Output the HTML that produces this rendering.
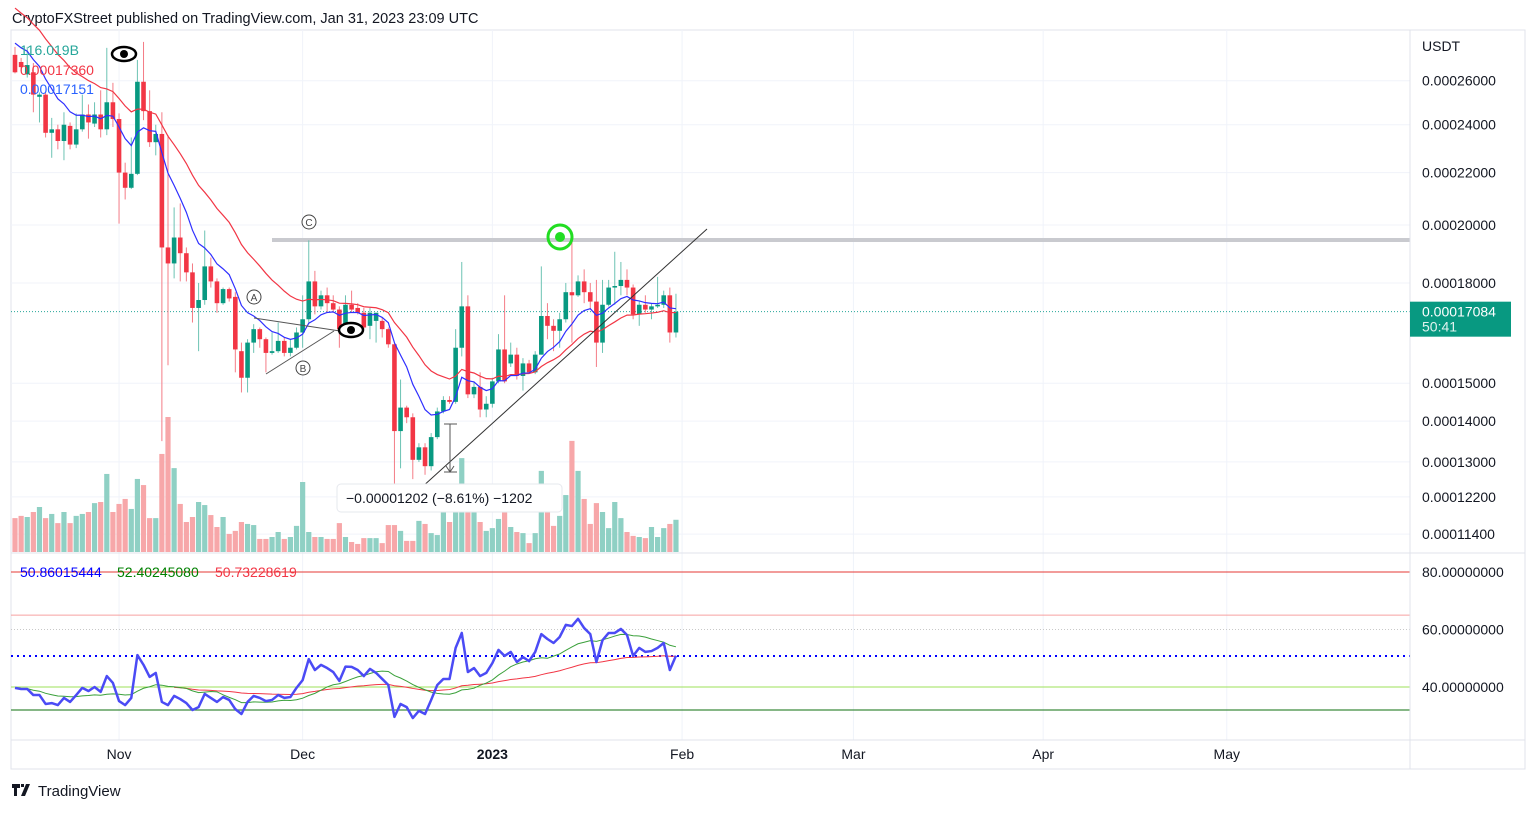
<!DOCTYPE html>
<html><head><meta charset="utf-8"><style>
html,body{margin:0;padding:0;background:#fff;}
body{width:1536px;height:810px;overflow:hidden;position:relative;font-family:"Liberation Sans",sans-serif;}
svg text{font-family:"Liberation Sans",sans-serif;}
</style></head><body>
<svg id="chart" width="1536" height="810" xmlns="http://www.w3.org/2000/svg">
<text x="12" y="23" font-size="14.5" fill="#131722">CryptoFXStreet published on TradingView.com, Jan 31, 2023 23:09 UTC</text>
<rect x="11" y="30" width="1514" height="739" fill="none" stroke="#e0e3eb"/>
<g id="grid"></g>
<g id="ann"></g>
<g id="vol"></g>
<g id="candles"></g>
<g id="ma"></g>
<g id="top"></g>
<g id="rsi"></g>
<g id="axes"></g>
<g id="legend">
<text x="20" y="55" font-size="14" fill="#26a69a">116.019B</text>
<text x="20" y="75" font-size="14" fill="#f23645">0.00017360</text>
<text x="20" y="94" font-size="14" fill="#2962ff">0.00017151</text>
<text x="20" y="577" font-size="14" fill="#0000ff">50.86015444</text>
<text x="117" y="577" font-size="14" fill="#008000">52.40245080</text>
<text x="215" y="577" font-size="14" fill="#f23645">50.73228619</text>
</g>
<g>
<path d="M12 784h8v4h-3v8h-3v-8h-2z M21 784h3v3h-3z M26 784h4l-5 12h-4z" fill="#131722"/>
<text x="38" y="796" font-size="15" fill="#131722">TradingView</text>
</g>
</svg>
<script>
// price values in units of 1e-6 USDT: [open, high, low, close], daily from Oct 15 2022
const ohlc = [
[272.5,276.5,263.5,264],[269,271,264.5,266.5],[263,276.5,261.5,267.5],[264,268.5,245.5,253.5],[252.5,254.5,241,253.5],
[253.5,254.5,234.5,236.5],[236.5,243,226,238],[238,240,229.5,233],[233,245.5,225,240],[239.5,241,229.5,231.5],
[231.5,245,230,238],[238,253.5,237,244.5],[244.5,249,234,241],[240.5,250,239,244.5],[244.5,255.5,234.5,238],
[238,276,235.5,250],[250,259,239,242.5],[242.5,245,200.5,220],[220,224,209.5,214],[214,234.5,213.5,219.5],
[219.5,270,219,259.5],[259.5,279,242,246],[246,255.5,230.5,232.5],[232.5,240,227,236],[236,245.5,135,192],
[192,235.5,155,186.5],[186.5,206.5,181.5,195.5],[195.5,208,180.5,190],[190,192,180.5,183.5],[183.5,186.5,167.5,172],
[172,180,159,174.5],[174.5,198,173,185.5],[185.5,188.5,178.5,180.5],[180.5,181.5,170.5,173.5],[173.5,178.5,173,178],
[178,178.5,174,175],[175.5,177,153,159.5],[159,161.5,147.5,151.5],[151.5,162.5,147.5,161.5],[161.5,167,158.5,165.5],
[165.5,166,160,162.5],[162.5,163,153,158.5],[158.5,164.5,158,159],[159,167.5,158.5,162],[162,163,157.5,158.5],
[158.5,162.5,157.5,160],[160,166,159.5,164.5],[164.5,176,160,168.5],[168.5,194.5,167.5,180.5],[180.5,184,170,172.5],
[172.5,177.5,171.5,176],[176,178.5,170.5,173.5],[173.5,176,170.5,171.5],[171.5,172.5,160,165.5],[165.5,176,163,173],
[173,177.5,170.5,171.5],[172,173.5,170,170.5],[170.5,172,165.5,166],[166.5,172,162.5,170.5],[168,170.5,161.5,170.5],
[168,169,163,165.5],[165.5,166,160,161],[161,161.5,123,137.5],[137.5,151,128.5,143.5],[143.5,144,139.5,141],
[141,142,126,130.5],[130.5,134.5,130,133.5],[133.5,134.5,127,129],[129,137,128,136],[136,143.5,135.5,142.5],
[142.5,146.5,142,145.5],[145.5,146.5,144.5,145],[145,165.5,144.5,160],[160,187,157.5,172.5],[172.5,176,146,147],
[147,150.5,146,149],[149,153,141,143],[143,146.5,141,144.5],[144.5,151.5,143.5,150.5],[150.5,164,150,159.5],
[159.5,176,150,150.5],[155.5,161.5,154.5,158],[158,160,151,152],[152,157,148,155.5],[155.5,156.5,153,153],
[153,159,152.5,158],[158,185.5,158,169.5],[169.5,173.5,162.5,166.5],[166.5,168.5,159,165],[165,170.5,160,168.5],
[168.5,180,167.5,177],[177,196.5,161.5,176],[176,182.5,175.5,180.5],[180.5,184.5,173.5,177],[177,180,171.5,174],
[174,181,154.5,161.5],[161.5,181,158.5,173],[173,181,172.5,178.5],[178.5,190.5,173,179],[179,187,176,181],
[181,184.5,176,178.5],[178.5,179.5,168.5,170],[170,174,166.5,173],[173,176,170.5,171.5],[171.5,173.5,168.5,172.5],
[172.5,182,172,173],[173,177.5,172,176],[176,178.5,161.5,164.5],[164.5,176.5,163,170.84]
];
// volume in billions
const volume = [122,130,126,144,162,122,137,104,144,104,130,137,144,176,180,281,144,173,191,155,263,241,122,122,353,486,302,173,108,126,180,169,133,90,126,65,76,108,101,97,47,47,54,72,47,54,94,252,72,54,54,47,47,104,54,36,29,50,50,50,32,97,97,76,40,40,112,101,68,61,144,108,144,338,241,144,108,76,86,119,202,90,72,68,32,68,292,144,94,130,205,400,292,191,101,176,144,86,180,122,72,58,54,50,90,54,86,101,116];
// RSI values
const rsi = [39.7,39.3,39.3,37.2,37.2,34.1,34.4,33.7,36.2,34.8,
37.2,39.7,38.6,40,38.3,43.8,41.4,35.1,33.7,36.2,
51.1,47.7,43.5,44.9,34.8,33.7,36.9,35.8,34.4,32,
33,37.6,36.2,34.8,36.5,35.5,32.3,30.6,34.8,36.9,
36.2,35.1,35.5,37.2,36.2,36.5,39.7,42.4,49.7,45.9,
47.7,46.6,45.2,42.1,47.1,47,45.9,43.8,46.3,44.9,
42.8,40.7,29.6,34.1,33,29.2,31.7,30.6,35.5,40.7,
42.8,42.8,53.6,58.8,45.2,46.6,43.8,44.9,48.3,52.9,
50.8,52.2,48.7,50.4,49,52.2,58.4,56.7,55.3,57.4,
61.6,61.2,63.7,60.5,58.4,48.7,56.3,58.8,58.8,60.2,
58.1,50.8,53.6,52.2,52.5,53.6,55.3,45.9,50.86];
const priceTicks = [260,240,220,200,180,150,140,130,122,114];
const rsiTicks = [80,60,40];
const months = [["Nov",17,false],["Dec",47,false],["2023",78,true],["Feb",109,false],["Mar",137,false],["Apr",168,false],["May",198,false]];
const lastPrice = 170.84;

const NS="http://www.w3.org/2000/svg";
function el(tag,attrs,parent,text){const e=document.createElementNS(NS,tag);for(const k in attrs)e.setAttribute(k,attrs[k]);if(text!==undefined)e.textContent=text;document.getElementById(parent).appendChild(e);return e;}
const X=i=>15+i*6.12;
const Y=p=>225-550*Math.log(p/200);
const VY=v=>552-v/3.6;
const RY=v=>572+(80-v)*2.875;

// grid
priceTicks.forEach(t=>{const g=el('line',{x1:11,x2:1410,y1:Y(t),y2:Y(t),stroke:'#f0f3fa'},'grid');

});
months.forEach(m=>{const g=el('line',{x1:X(m[1]),x2:X(m[1]),y1:30,y2:740,stroke:'#f0f3fa'},'grid');

});

el('line',{x1:11,x2:1525,y1:553,y2:553,stroke:'#e0e3eb'},'axes');
el('line',{x1:11,x2:1525,y1:740,y2:740,stroke:'#e0e3eb'},'axes');
el('line',{x1:1410,x2:1410,y1:30,y2:769,stroke:'#e0e3eb'},'axes');

// volume
volume.forEach((v,i)=>{const up=ohlc[i][3]>=ohlc[i][0];
const r=el('rect',{x:X(i)-2.6,y:VY(v),width:5.2,height:552-VY(v),fill:up?'#8fd0c4':'#f7a7a9'},'vol');

});

// annotations
el('line',{x1:272,x2:1410,y1:240,y2:240,stroke:'#c9cacf','stroke-width':4},'ann');
el('line',{x1:11,x2:1410,y1:Y(lastPrice),y2:Y(lastPrice),stroke:'#26a69a','stroke-dasharray':'1 2','stroke-width':1},'ann');
el('line',{x1:400,y1:507,x2:707,y2:229,stroke:'#333','stroke-width':1},'top');
el('line',{x1:254,y1:318,x2:340,y2:331,stroke:'#555','stroke-width':1},'top');
el('line',{x1:266,y1:374,x2:334,y2:331,stroke:'#555','stroke-width':1},'top');
el('line',{x1:450,y1:424,x2:450,y2:472,stroke:'#555','stroke-width':1},'top');
el('line',{x1:444,y1:424,x2:457,y2:424,stroke:'#555'},'top');
el('line',{x1:444,y1:472,x2:457,y2:472,stroke:'#555'},'top');
el('path',{d:'M446 466 L450 472 L454 466',fill:'none',stroke:'#555'},'top');
[["A",254,297],["B",303,368],["C",309,222]].forEach(a=>{
const c=el('circle',{cx:a[1],cy:a[2],r:7,fill:'#fff',stroke:'#444','stroke-width':1},'top');


el('text',{x:a[1],y:a[2]+4,'font-size':10,'text-anchor':'middle',fill:'#444'},'top',a[0]);});
el('circle',{cx:560,cy:237,r:12,fill:'none',stroke:'#22dd22','stroke-width':3},'top');
el('circle',{cx:560,cy:237,r:5,fill:'#22dd22'},'top');
[[124,54],[351,330]].forEach(p=>{
const e=el('ellipse',{cx:p[0],cy:p[1],rx:12,ry:7,fill:'#fff',stroke:'#000','stroke-width':2.5},'top');


el('circle',{cx:p[0],cy:p[1],r:4,fill:'#000'},'top');});
const box=el('rect',{x:337,y:484,width:225,height:28,rx:4,fill:'#fff',stroke:'#e6e8ee'},'top');


el('text',{x:346,y:503,'font-size':14,fill:'#131722'},'top','\u22120.00001202 (\u22128.61%) \u22121202');

// candles
ohlc.forEach((c,i)=>{const [o,h,l,cl]=c;const up=cl>=o;const col=up?'#089981':'#f23645';
const w=el('line',{x1:X(i),x2:X(i),y1:Y(h),y2:Y(l),stroke:up?'#6cc3b3':'#f47c86','stroke-width':1},'candles');


const top=Y(Math.max(o,cl)),bot=Y(Math.min(o,cl));
const b=el('rect',{x:X(i)-2.3,y:top,width:4.6,height:Math.max(1,bot-top),fill:col},'candles');

});

// moving averages (EMA of closes)
function ema(vals,n,seed){const a=2/(n+1);let e=seed;return vals.map(v=>e=e+a*(v-e));}
const closes=ohlc.map(c=>c[3]);
const fast=ema(closes,9,282), slow=ema(closes,21,300);
[[slow,'#f23645','slow-ma-line'],[fast,'#2f2fff','fast-ma-line']].forEach(s=>{
const p=el('polyline',{points:s[0].map((v,i)=>X(i)+','+Y(v)).join(' '),fill:'none',stroke:s[1],'stroke-width':1.2},'ma');

});

// RSI pane
el('line',{x1:11,x2:1410,y1:RY(80),y2:RY(80),stroke:'#e53935'},'rsi');
el('line',{x1:11,x2:1410,y1:RY(65),y2:RY(65),stroke:'#f7a0a0'},'rsi');
el('line',{x1:11,x2:1410,y1:RY(60),y2:RY(60),stroke:'#c8c8c8','stroke-dasharray':'1 2'},'rsi');
el('line',{x1:11,x2:1410,y1:656,y2:656,stroke:'#0000ff','stroke-width':2,'stroke-dasharray':'2 4'},'rsi');
el('line',{x1:11,x2:1410,y1:RY(40),y2:RY(40),stroke:'#9ee05a'},'rsi');
el('line',{x1:11,x2:1410,y1:RY(32),y2:RY(32),stroke:'#3d8c3d','stroke-width':1.2},'rsi');
const sig=rsi.map((v,i)=>{const s=rsi.slice(Math.max(0,i-13),i+1);return s.reduce((a,b)=>a+b,0)/s.length;});
const slowStart=26;const slowR=ema(rsi.slice(slowStart),50,40);
const p1=el('polyline',{points:slowR.map((v,i)=>X(i+slowStart)+','+RY(v)).join(' '),fill:'none',stroke:'#f23645','stroke-width':1},'rsi');


const p2=el('polyline',{points:sig.map((v,i)=>X(i)+','+RY(v)).join(' '),fill:'none',stroke:'#3aa03a','stroke-width':1},'rsi');


const p3=el('polyline',{points:rsi.map((v,i)=>X(i)+','+RY(v)).join(' '),fill:'none',stroke:'#4b4bf5','stroke-width':2.5,'stroke-linejoin':'round'},'rsi');



// axis labels
el('text',{x:1422,y:51,'font-size':14,fill:'#131722'},'axes','USDT');
priceTicks.forEach(t=>{const tx=el('text',{x:1422,y:Y(t)+5,'font-size':14,fill:'#131722'},'axes',(t/1e6).toFixed(8));

});
rsiTicks.forEach(t=>{const tx=el('text',{x:1422,y:RY(t)+5,'font-size':14,fill:'#131722'},'axes',t.toFixed(8));

});
months.forEach(m=>{const tx=el('text',{x:X(m[1]),y:759,'font-size':14,'text-anchor':'middle',fill:'#131722','font-weight':m[2]?'bold':'normal'},'axes',m[0]);

});
const lab=el('rect',{x:1410,y:Y(lastPrice)-10,width:101,height:35,fill:'#089981'},'axes');


el('text',{x:1422,y:Y(lastPrice)+5,'font-size':14,fill:'#fff'},'axes',(lastPrice/1e6).toFixed(8));
el('text',{x:1422,y:Y(lastPrice)+20,'font-size':14,fill:'#e0f2ef'},'axes','50:41');
</script>
</body></html>
